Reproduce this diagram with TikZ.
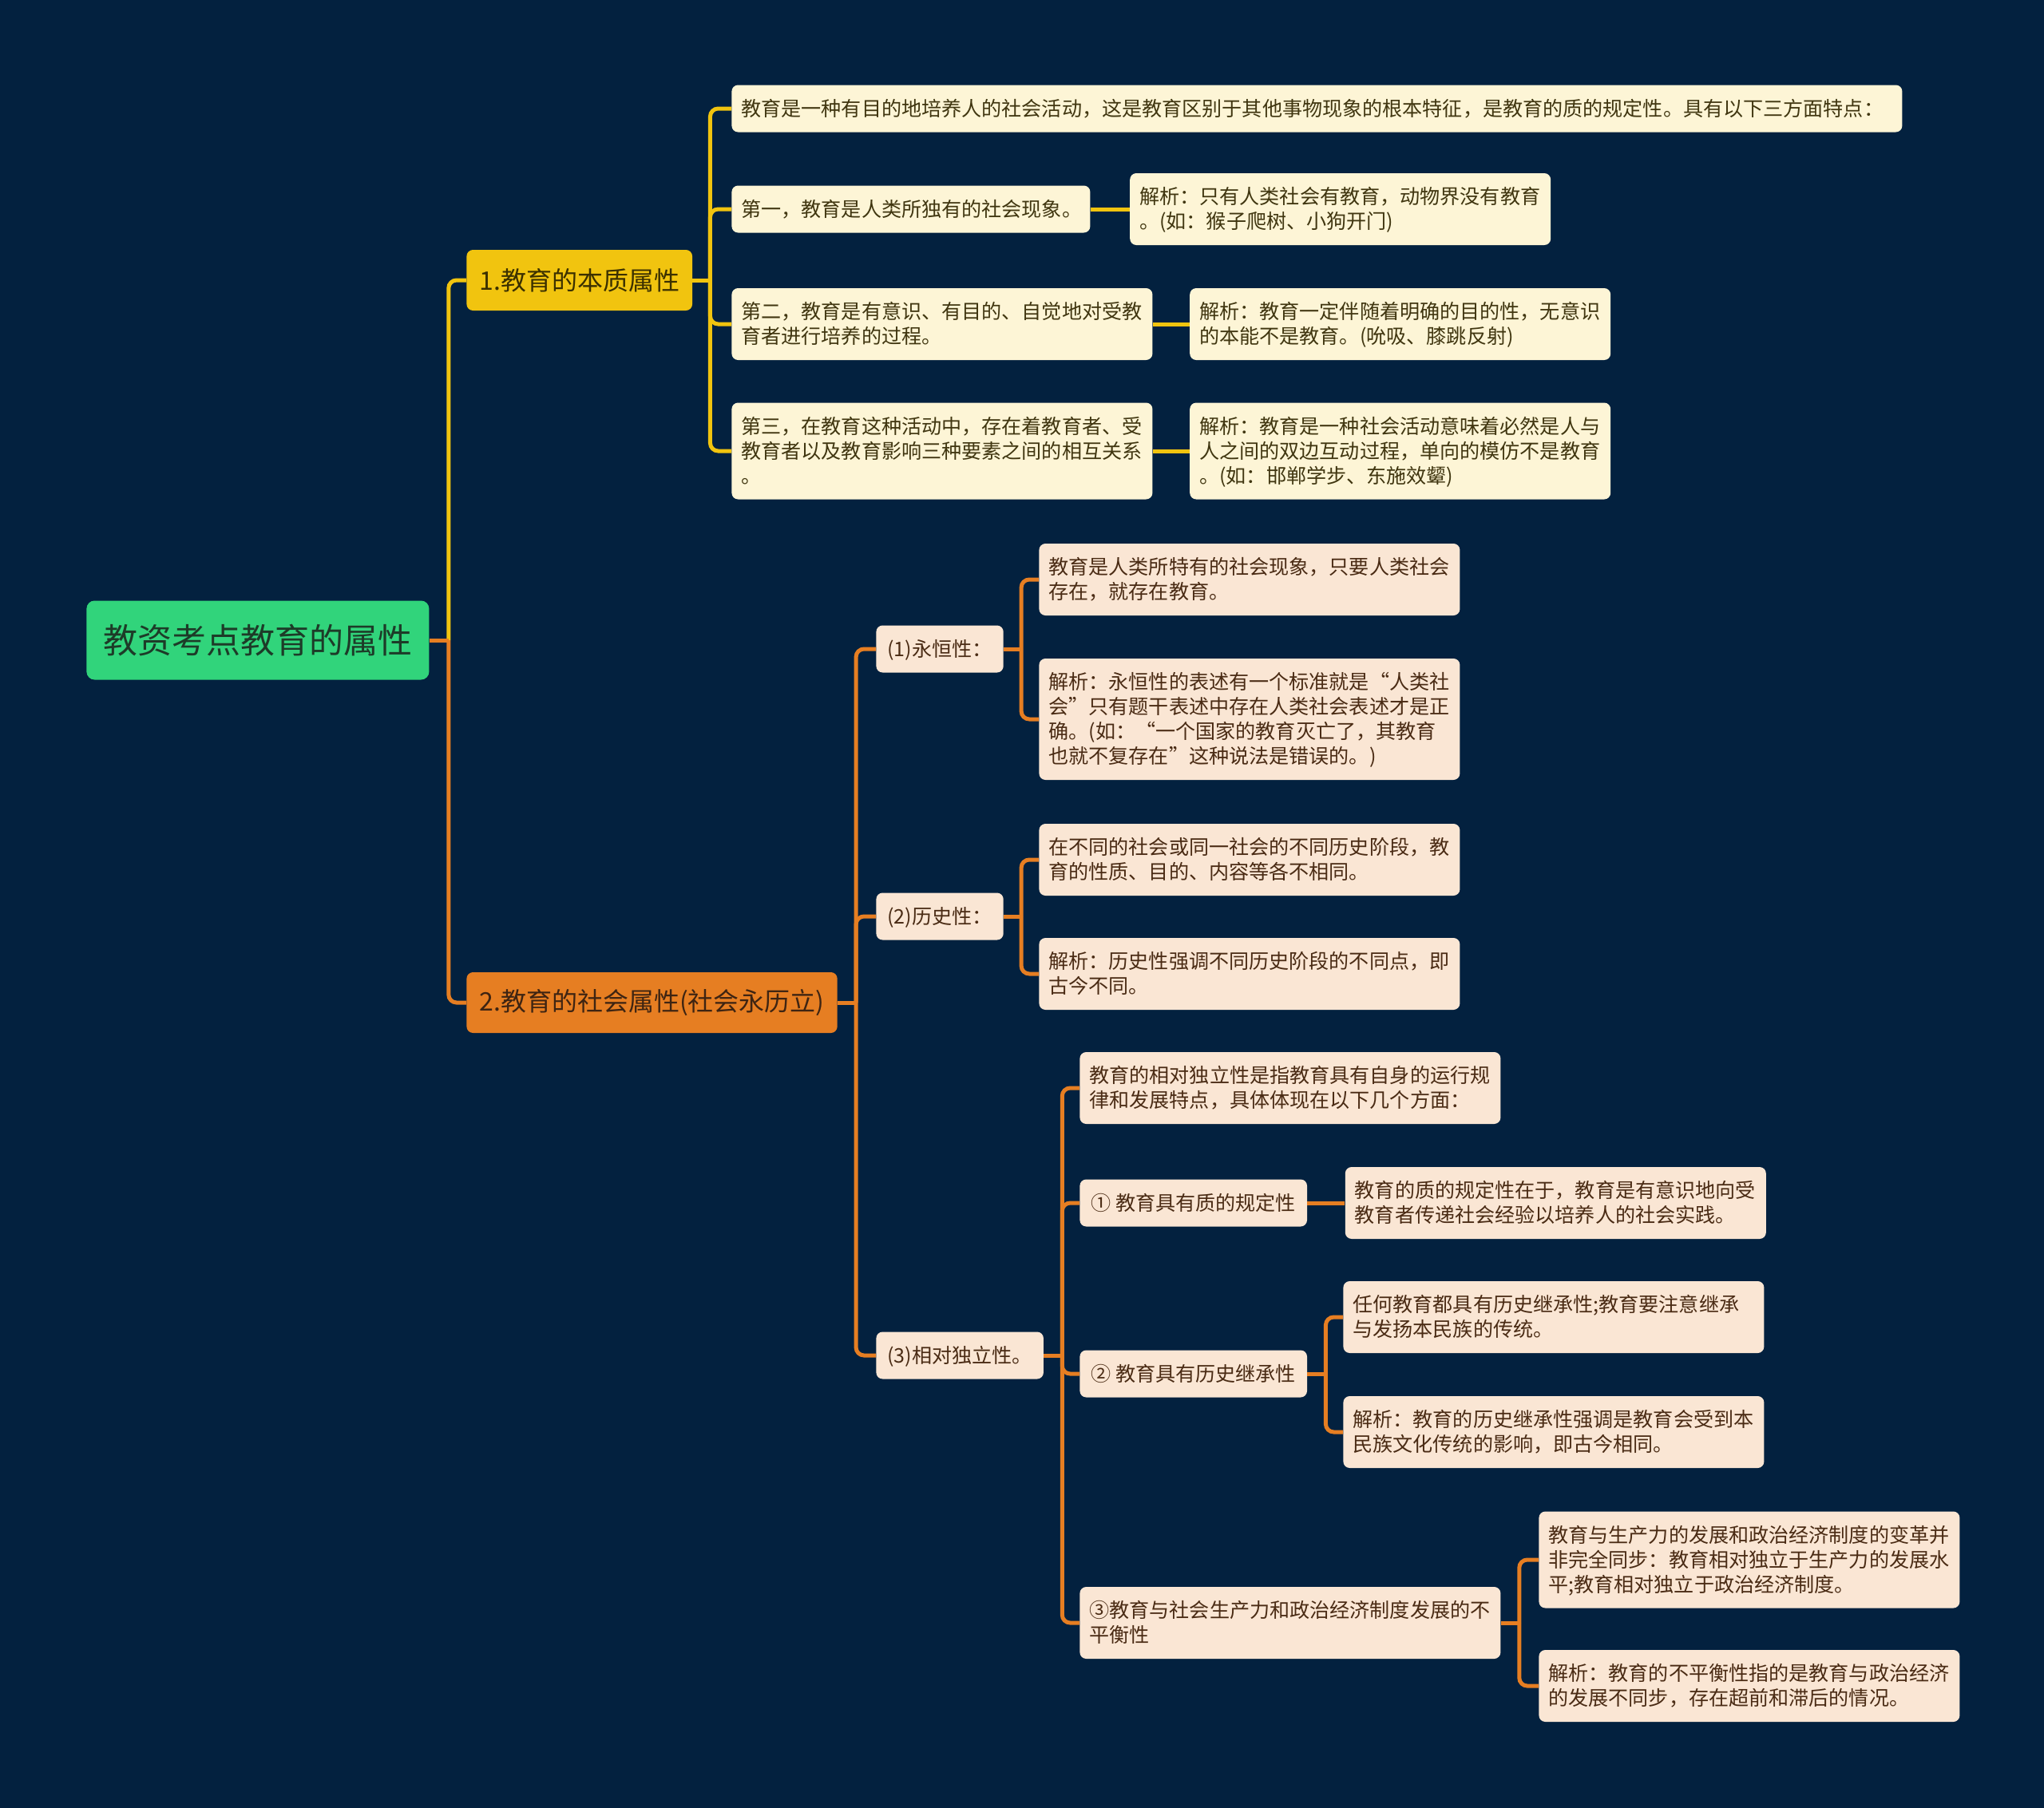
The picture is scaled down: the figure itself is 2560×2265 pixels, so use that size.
\documentclass[tikz,border=0pt]{standalone}
\usepackage{fontspec}
\setmainfont{Noto Sans CJK SC}
\usetikzlibrary{positioning}
\definecolor{navy}{HTML}{03213F}
\definecolor{rootgreen}{HTML}{31D47B}
\definecolor{rootink}{HTML}{1D3B28}
\definecolor{gold}{HTML}{F1C40F}
\definecolor{goldink}{HTML}{3B3000}
\definecolor{goldpale}{HTML}{FDF5D6}
\definecolor{goldtext}{HTML}{403610}
\definecolor{amber}{HTML}{E67E22}
\definecolor{amberink}{HTML}{3E2412}
\definecolor{amberpale}{HTML}{FAE6D4}
\definecolor{ambertext}{HTML}{4A2B14}
\newcommand\linestrut{\rule[-3.05pt]{0pt}{15.5pt}}

\begin{document}
\begin{tikzpicture}[
  x=0.5pt,y=-0.5pt,
  rootbox/.style={fill=rootgreen,rounded corners=5pt,text=rootink,
                  font=\fontsize{21.5}{26}\selectfont,
                  minimum width=214.5pt,minimum height=49.5pt,inner xsep=10pt},
  topic/.style={rounded corners=4pt,font=\fontsize{16}{19}\selectfont,
                minimum height=38pt,inner xsep=8pt},
  topicA/.style={topic,fill=gold,text=goldink},
  topicB/.style={topic,fill=amber,text=amberink},
  leaf/.style={rounded corners=4pt,font=\fontsize{12.55}{15.5}\selectfont,
               align=left,inner xsep=6pt,inner ysep=7pt,text width=#1,
               execute at begin node=\linestrut,execute at end node=\linestrut},
  leaf/.default=251.5pt,
  yleaf/.style={leaf=#1,fill=goldpale,text=goldtext},
  yleaf/.default=251.5pt,
  oleaf/.style={leaf=#1,fill=amberpale,text=ambertext},
  oleaf/.default=251.5pt,
  otag/.style={rounded corners=4pt,font=\fontsize{12.55}{15.5}\selectfont,
               inner xsep=7pt,inner ysep=7pt,fill=amberpale,text=ambertext,
               execute at begin node=\linestrut},
  yline/.style={draw=gold,line width=2.5pt,rounded corners=5pt},
  oline/.style={draw=amber,line width=2.5pt,rounded corners=5pt},
]
  \useasboundingbox (0,0) rectangle (2560,2265);
  \fill[navy] (0,0) rectangle (2560,2265);

  % root and the two main branches
  \node[rootbox,anchor=west] (root) at (108,802) {教资考点教育的属性};
  \node[topicA,anchor=west] (ess) at (584,351) {1.教育的本质属性};
  \node[topicB,anchor=west] (soc) at (584,1256) {2.教育的社会属性(社会永历立)};

  % 1. essence
  \node[yleaf=721pt,anchor=west] (a0) at (916,136) {教育是一种有目的地培养人的社会活动，这是教育区别于其他事物现象的根本特征，是教育的质的规定性。具有以下三方面特点：};
  \node[yleaf=212.5pt,anchor=west] (a1) at (916,262) {第一，教育是人类所独有的社会现象。};
  \node[yleaf,right=24.5pt of a1] (a1x) {解析：只有人类社会有教育，动物界没有教育\\。(如：猴子爬树、小狗开门)};
  \node[yleaf,anchor=west] (a2) at (916,406) {第二，教育是有意识、有目的、自觉地对受教\\育者进行培养的过程。};
  \node[yleaf,right=23pt of a2] (a2x) {解析：教育一定伴随着明确的目的性，无意识\\的本能不是教育。(吮吸、膝跳反射)};
  \node[yleaf,anchor=west] (a3) at (916,565) {第三，在教育这种活动中，存在着教育者、受\\教育者以及教育影响三种要素之间的相互关系\\。};
  \node[yleaf,right=23pt of a3] (a3x) {解析：教育是一种社会活动意味着必然是人与\\人之间的双边互动过程，单向的模仿不是教育\\。(如：邯郸学步、东施效颦)};

  % 2. social
  \node[otag,anchor=west] (perm) at (1097,813) {(1)永恒性：};
  \node[oleaf,anchor=west] (perm1) at (1301,726) {教育是人类所特有的社会现象，只要人类社会\\存在，就存在教育。};
  \node[oleaf,anchor=west] (perm2) at (1301,901) {解析：永恒性的表述有一个标准就是“人类社\\会”只有题干表述中存在人类社会表述才是正\\确。(如：“一个国家的教育灭亡了，其教育\\也就不复存在”这种说法是错误的。)};
  \node[otag,anchor=west] (hist) at (1097,1148) {(2)历史性：};
  \node[oleaf,anchor=west] (hist1) at (1301,1077) {在不同的社会或同一社会的不同历史阶段，教\\育的性质、目的、内容等各不相同。};
  \node[oleaf,anchor=west] (hist2) at (1301,1220) {解析：历史性强调不同历史阶段的不同点，即\\古今不同。};
  \node[otag,anchor=west] (indep) at (1097,1698) {(3)相对独立性。};
  \node[oleaf,anchor=west] (ind0) at (1352,1363) {教育的相对独立性是指教育具有自身的运行规\\律和发展特点，具体体现在以下几个方面：};
  \node[otag,anchor=west] (ind1) at (1352,1507) {① 教育具有质的规定性};
  \node[oleaf,right=23.5pt of ind1] (ind1x) {教育的质的规定性在于，教育是有意识地向受\\教育者传递社会经验以培养人的社会实践。};
  \node[otag,anchor=west] (ind2) at (1352,1721) {② 教育具有历史继承性};
  \node[oleaf,anchor=west] (ind2a) at (1682,1650) {任何教育都具有历史继承性;教育要注意继承\\与发扬本民族的传统。};
  \node[oleaf,anchor=west] (ind2b) at (1682,1794) {解析：教育的历史继承性强调是教育会受到本\\民族文化传统的影响，即古今相同。};
  \node[oleaf,anchor=west] (ind3) at (1352,2033) {③教育与社会生产力和政治经济制度发展的不\\平衡性};
  \node[oleaf,anchor=west] (ind3a) at (1927,1954) {教育与生产力的发展和政治经济制度的变革并\\非完全同步：教育相对独立于生产力的发展水\\平;教育相对独立于政治经济制度。};
  \node[oleaf,anchor=west] (ind3b) at (1927,2112) {解析：教育的不平衡性指的是教育与政治经济\\的发展不同步，存在超前和滞后的情况。};

  % connectors
  \coordinate (rj) at ([xshift=12pt]root.east);
  \draw[yline] (rj) |- (ess.west);
  \draw[oline] (root.east) -- (rj);
  \draw[oline] (rj) |- (soc.west);

  \draw[yline] (ess.east) -- ++(11pt,0) coordinate (ej);
  \foreach \c in {a0,a1,a2,a3}
    \draw[yline] (ej) |- (\c.west);
  \draw[yline] (a1.east) -- (a1x.west);
  \draw[yline] (a2.east) -- (a2x.west);
  \draw[yline] (a3.east) -- (a3x.west);

  \draw[oline] (soc.east) -- ++(11.5pt,0) coordinate (sj);
  \foreach \c in {perm,hist,indep}
    \draw[oline] (sj) |- (\c.west);
  \draw[oline] (perm.east) -- ++(11pt,0) coordinate (pj);
  \foreach \c in {perm1,perm2}
    \draw[oline] (pj) |- (\c.west);
  \draw[oline] (hist.east) -- ++(11pt,0) coordinate (hj);
  \foreach \c in {hist1,hist2}
    \draw[oline] (hj) |- (\c.west);
  \draw[oline] (indep.east) -- ++(11.5pt,0) coordinate (ij);
  \foreach \c in {ind0,ind1,ind2,ind3}
    \draw[oline] (ij) |- (\c.west);
  \draw[oline] (ind1.east) -- (ind1x.west);
  \draw[oline] (ind2.east) -- ++(11.5pt,0) coordinate (kj);
  \foreach \c in {ind2a,ind2b}
    \draw[oline] (kj) |- (\c.west);
  \draw[oline] (ind3.east) -- ++(11.5pt,0) coordinate (uj);
  \foreach \c in {ind3a,ind3b}
    \draw[oline] (uj) |- (\c.west);
\end{tikzpicture}
\end{document}
